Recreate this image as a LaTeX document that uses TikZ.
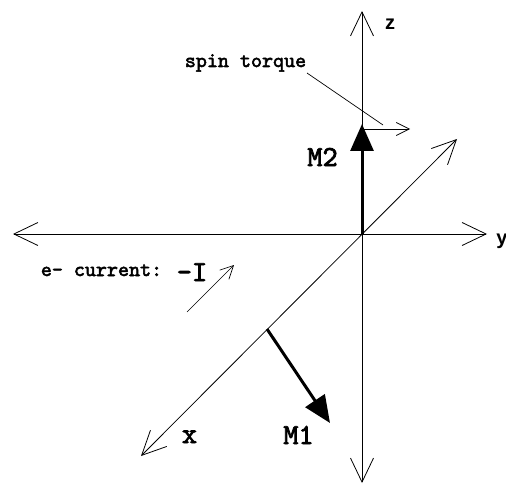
\documentclass[tikz,border=0pt]{standalone}
\usepackage{fontspec}
\newfontfamily\axfont{Liberation Sans}
\newfontfamily\courfont[FakeBold=2.5]{lmmono10-regular.otf}
\usetikzlibrary{arrows.meta}
\begin{document}
\begin{tikzpicture}[x=1pt,y=-1pt,
  axis/.style={line width=0.8pt,{Straight Barb[length=24pt,width=23pt]}-{Straight Barb[length=24pt,width=23pt]}},
  thin arrow/.style={line width=0.7pt,-{Straight Barb[length=13pt,width=13pt]}},
  magnet/.style={line width=3pt,-{Triangle[length=27pt,width=23pt]}},
  small label/.style={inner sep=0pt,anchor=base,font=\courfont\fontsize{21}{23}\selectfont},
  big label/.style={inner sep=0pt,anchor=base,font=\courfont\fontsize{29}{31}\selectfont},
  ax label/.style={inner sep=0pt,anchor=base,font=\axfont\bfseries\fontsize{20}{22}\selectfont}]
\useasboundingbox (0,0) rectangle (506,484);
% axis end points
\coordinate (O) at (362,234);
\coordinate (ztop) at (362,11);
\coordinate (zbot) at (362,483);
\coordinate (yleft) at (13,234);
\coordinate (yright) at (487,234);
\coordinate (xfar) at (457,139);
\coordinate (xnear) at (141,456);
% axes
\draw[axis] (zbot) -- (ztop);
\draw[axis] (yleft) -- (yright);
\draw[axis] (xnear) -- (xfar);
% magnetisations
\coordinate (M2tip) at (362,124);
\coordinate (M1start) at (267,329);
\coordinate (M1tip) at (330,423);
\draw[magnet] (O) -- (M2tip);
\draw[magnet] (M1start) -- (M1tip);
% spin torque
\coordinate (stA) at (362,129);
\coordinate (stB) at (410,129);
\draw[thin arrow] (stA) -- (stB);
\node[small label] (st) at (245.5,67) {spin torque};
\coordinate (leadA) at (307,73);
\coordinate (leadB) at (383,125);
\draw[line width=0.7pt] (leadA) -- (leadB);
% current
\node[small label] (ec) at (101.5,276) {e- current:};
\node[big label] (mI) at (192,281) {-I};
\coordinate (cA) at (187,312);
\coordinate (cB) at (234,265);
\draw[thin arrow] (cA) -- (cB);
% labels
\node[big label] (m2) at (322.5,166) {M2};
\node[big label] (m1) at (298.5,444) {M1};
\node[big label] (xl) at (189.5,443) {x};
\node[ax label] (zl) at (390,30) {z};
\node[ax label] (yl) at (502,244) {y};
\end{tikzpicture}
\end{document}
